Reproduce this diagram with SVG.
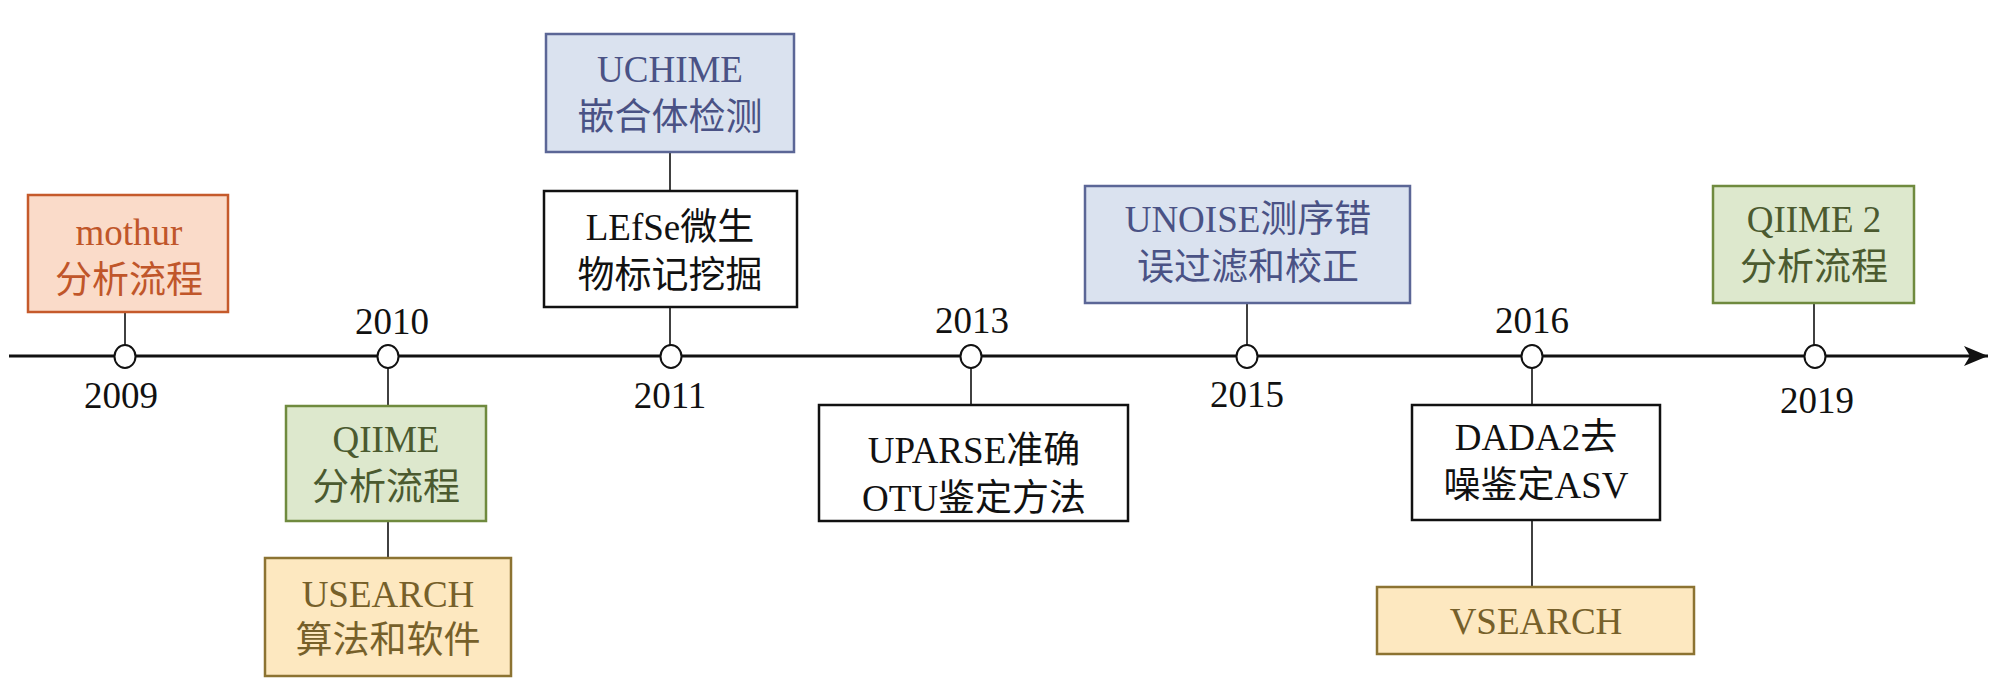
<svg xmlns="http://www.w3.org/2000/svg" width="2008" height="684" viewBox="0 0 2008 684">
<defs>
<marker id="arr" markerUnits="userSpaceOnUse" markerWidth="30" markerHeight="24" refX="24" refY="12" orient="auto">
<path d="M0,2 L24,12 L0,22 L6,12 Z" fill="#111"/>
</marker>
<style>
text{font-family:"Liberation Serif","Noto Sans CJK SC",serif;font-size:37px;text-anchor:middle}
.yr{fill:#111}
.box{stroke-width:2.5}
.orange rect{fill:#FADBC9;stroke:#C55A2B}
.orange text{fill:#C0562A}
.green rect{fill:#DDE8CD;stroke:#6F8A3E}
.green text{fill:#4B5A2F}
.gold rect{fill:#FDE8C0;stroke:#8C7332}
.gold text{fill:#76602A}
.blue rect{fill:#DAE2EF;stroke:#5B6696}
.blue text{fill:#4A5285}
.white rect{fill:#fff;stroke:#111}
.white text{fill:#111}
.conn line{stroke:#111;stroke-width:1.6}
.dot{fill:#fff;stroke:#111;stroke-width:2}
</style>
</defs>
<rect width="2008" height="684" fill="#fff"/>
<g id="connectors" class="conn">
<line x1="9" y1="356" x2="1988" y2="356" style="stroke-width:2.8" marker-end="url(#arr)"/>
<line x1="125" y1="312" x2="125" y2="356"/>
<line x1="388" y1="356" x2="388" y2="406"/>
<line x1="388" y1="521" x2="388" y2="558"/>
<line x1="670" y1="151" x2="670" y2="191"/>
<line x1="670" y1="307" x2="670" y2="356"/>
<line x1="971" y1="356" x2="971" y2="405"/>
<line x1="1247" y1="302" x2="1247" y2="356"/>
<line x1="1532" y1="356" x2="1532" y2="405"/>
<line x1="1532" y1="520" x2="1532" y2="587"/>
<line x1="1814" y1="302" x2="1814" y2="356"/>
</g>
<g id="timeline-dots">
<ellipse class="dot" cx="125" cy="356.5" rx="10.5" ry="11.5"/>
<ellipse class="dot" cx="388" cy="356.5" rx="10.5" ry="11.5"/>
<ellipse class="dot" cx="671" cy="356.5" rx="10.5" ry="11.5"/>
<ellipse class="dot" cx="971" cy="356.5" rx="10.5" ry="11.5"/>
<ellipse class="dot" cx="1247" cy="356.5" rx="10.5" ry="11.5"/>
<ellipse class="dot" cx="1532" cy="356.5" rx="10.5" ry="11.5"/>
<ellipse class="dot" cx="1815" cy="356.5" rx="10.5" ry="11.5"/>
</g>
<g id="years" class="yr">
<text x="121" y="408">2009</text>
<text x="392" y="334">2010</text>
<text x="670" y="408">2011</text>
<text x="972" y="333">2013</text>
<text x="1247" y="407">2015</text>
<text x="1532" y="333">2016</text>
<text x="1817" y="413">2019</text>
</g>
<g id="mothur" class="orange">
<rect class="box" x="28" y="195" width="200" height="117"/>
<text x="129" y="245">mothur</text>
<text x="129" y="293">分析流程</text>
</g>
<g id="qiime" class="green">
<rect class="box" x="286" y="406" width="200" height="115"/>
<text x="386" y="452">QIIME</text>
<text x="386" y="500">分析流程</text>
</g>
<g id="usearch" class="gold">
<rect class="box" x="265" y="558" width="246" height="118"/>
<text x="388" y="607">USEARCH</text>
<text x="388" y="653">算法和软件</text>
</g>
<g id="uchime" class="blue">
<rect class="box" x="546" y="34" width="248" height="118"/>
<text x="670" y="82">UCHIME</text>
<text x="670" y="130">嵌合体检测</text>
</g>
<g id="lefse" class="white">
<rect class="box" x="544" y="191" width="253" height="116"/>
<text x="670" y="240">LEfSe微生</text>
<text x="670" y="288">物标记挖掘</text>
</g>
<g id="uparse" class="white">
<rect class="box" x="819" y="405" width="309" height="116"/>
<text x="974" y="463">UPARSE准确</text>
<text x="974" y="511">OTU鉴定方法</text>
</g>
<g id="unoise" class="blue">
<rect class="box" x="1085" y="186" width="325" height="117"/>
<text x="1248" y="232">UNOISE测序错</text>
<text x="1248" y="280">误过滤和校正</text>
</g>
<g id="dada2" class="white">
<rect class="box" x="1412" y="405" width="248" height="115"/>
<text x="1536" y="450">DADA2去</text>
<text x="1536" y="498">噪鉴定ASV</text>
</g>
<g id="vsearch" class="gold">
<rect class="box" x="1377" y="587" width="317" height="67"/>
<text x="1536" y="634">VSEARCH</text>
</g>
<g id="qiime2" class="green">
<rect class="box" x="1713" y="186" width="201" height="117"/>
<text x="1814" y="232">QIIME 2</text>
<text x="1814" y="280">分析流程</text>
</g>
</svg>
